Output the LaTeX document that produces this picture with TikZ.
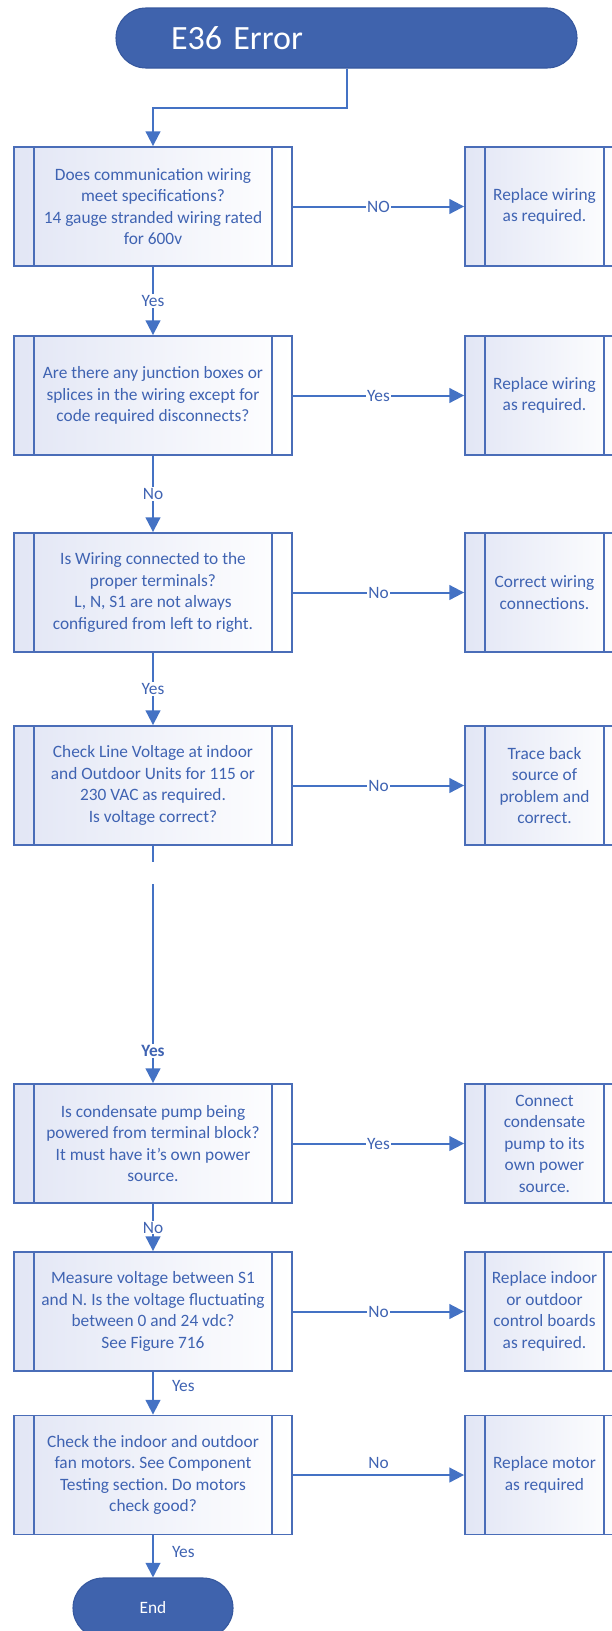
\documentclass[tikz,border=0pt]{standalone}
\usepackage{fontspec}
\setmainfont{Carlito}
\usetikzlibrary{arrows.meta}
\definecolor{flowline}{HTML}{4472C4}
\definecolor{boxedge}{HTML}{4A6DB8}
\definecolor{boxtext}{HTML}{3F63B2}
\definecolor{termfill}{HTML}{3F63AD}
\definecolor{termedge}{HTML}{36589E}
\definecolor{boxtint}{HTML}{E2E6F5}
\newcommand{\boxfont}{\fontsize{13}{16.1}\selectfont}
\frenchspacing

\begin{document}
\begin{tikzpicture}[x=0.75pt,y=-0.75pt,
  proc/.style={draw=boxedge, line width=1.4pt, left color=boxtint, right color=white, text=boxtext, font=\boxfont, align=center, inner sep=0pt, minimum height=89.25pt,
    path picture={\draw[boxedge, line width=1.4pt] ([xshift=15pt]path picture bounding box.north west) -- ([xshift=15pt]path picture bounding box.south west) ([xshift=-15pt]path picture bounding box.north east) -- ([xshift=-15pt]path picture bounding box.south east);}},
  ask/.style={proc, minimum width=208.5pt},
  fix/.style={proc, minimum width=119.25pt},
  term/.style={draw=termedge, line width=0.8pt, fill=termfill, text=white, rounded corners=22.5pt, minimum height=45pt, inner sep=0pt},
  wire/.style={flowline, line width=1.5pt},
  arr/.style={wire, -{Triangle[length=11pt,width=11pt]}},
  tag/.style={fill=white, text=boxtext, font=\boxfont, inner sep=1pt}]
\useasboundingbox (0,0) rectangle (611,1631);
\node[term, minimum width=345.75pt, text width=263.25pt, inner xsep=41.25pt, align=left, font=\fontsize{25.5}{30}\selectfont] (start) at (346.5,38) {E36 Error};
\node[ask] (q1) at (153,206.5) {Does communication wiring\\meet specifications?\\14 gauge stranded wiring rated\\for 600v};
\node[fix] (r1) at (544.5,206.5) {Replace wiring\\as required.};
\node[ask] (q2) at (153,395.5) {Are there any junction boxes or\\splices in the wiring except for\\code required disconnects?};
\node[fix] (r2) at (544.5,395.5) {Replace wiring\\as required.};
\node[ask] (q3) at (153,592.5) {Is Wiring connected to the\\proper  terminals?\\L, N, S1 are not always\\configured from left to right.};
\node[fix] (r3) at (544.5,592.5) {Correct wiring\\connections.};
\node[ask] (q4) at (153,785.5) {Check Line Voltage at indoor\\and Outdoor Units for 115 or\\230 VAC as required.\\Is voltage correct?};
\node[fix] (r4) at (544.5,785.5) {Trace back\\source of\\problem and\\correct.};
\node[ask] (q5) at (153,1143.5) {Is condensate pump being\\powered from terminal block?\\It must have it’s own power\\source.};
\node[fix] (r5) at (544.5,1143.5) {Connect\\condensate\\pump to its\\own power\\source.};
\node[ask] (q6) at (153,1311.5) {Measure voltage between S1\\and N. Is the voltage fluctuating\\between 0 and 24 vdc?\\See Figure 716};
\node[fix] (r6) at (544.5,1311.5) {Replace indoor\\or outdoor\\control boards\\as required.};
\node[ask] (q7) at (153,1475) {Check the indoor and outdoor\\fan motors. See Component\\Testing section. Do motors\\check good?};
\node[fix] (r7) at (544.5,1475) {Replace motor\\as required};
\node[term, minimum width=120pt, font=\boxfont] (stop) at (153,1608) {End};
\coordinate (cut1) at (153,862);
\coordinate (cut2) at (153,884);
\draw[arr] (start.south) -- ++(0,39) -| (q1.north);
\draw[arr] (q1.east) -- node[tag]{NO} (r1.west);
\draw[arr] (q1.south) -- node[tag]{Yes} (q2.north);
\draw[arr] (q2.east) -- node[tag]{Yes} (r2.west);
\draw[arr] (q2.south) -- node[tag]{No} (q3.north);
\draw[arr] (q3.east) -- node[tag]{No} (r3.west);
\draw[arr] (q3.south) -- node[tag]{Yes} (q4.north);
\draw[arr] (q4.east) -- node[tag]{No} (r4.west);
\draw[wire] (q4.south) -- (cut1);
\draw[arr] (cut2) -- node[tag, pos=0.84, font=\boxfont\bfseries]{Yes} (q5.north);
\draw[arr] (q5.east) -- node[tag]{Yes} (r5.west);
\draw[arr] (q5.south) -- node[tag]{No} (q6.north);
\draw[arr] (q6.east) -- node[tag]{No} (r6.west);
\draw[arr] (q6.south) -- node[tag, fill=none, pos=0.33, right=12.5pt]{Yes} (q7.north);
\draw[arr] (q7.east) -- node[tag, fill=none, above=3pt]{No} (r7.west);
\draw[arr] (q7.south) -- node[tag, fill=none, pos=0.39, right=12.5pt]{Yes} (stop.north);
\end{tikzpicture}
\end{document}
